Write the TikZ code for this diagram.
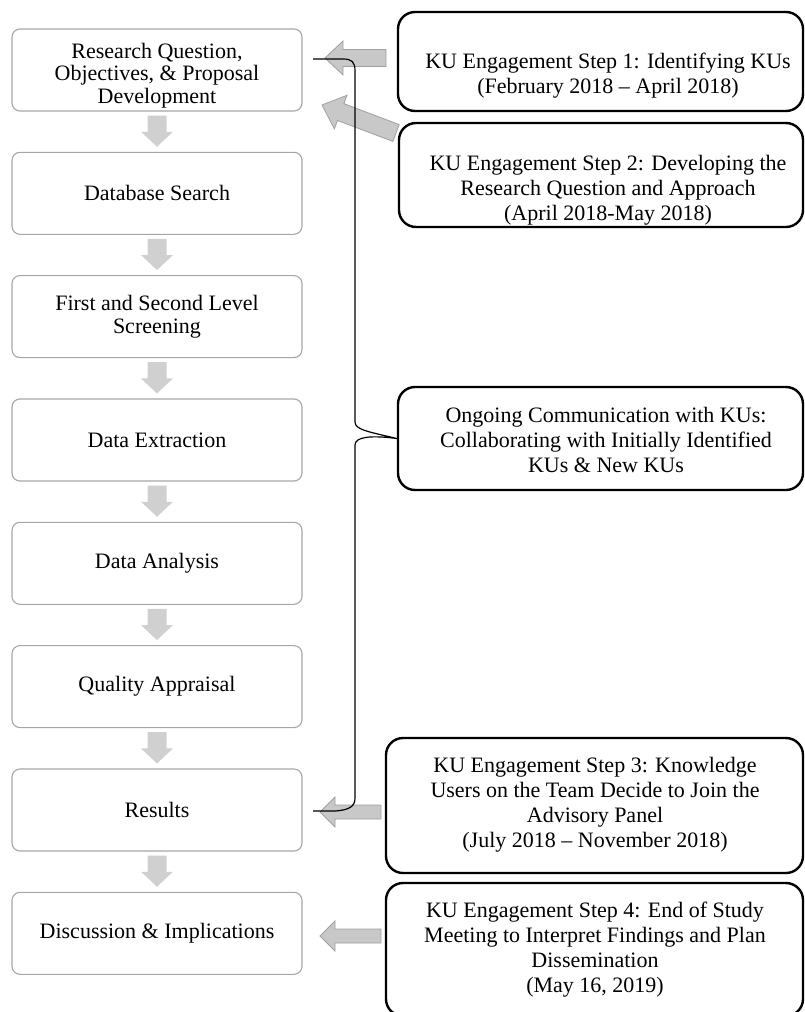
\documentclass[tikz,border=0pt]{standalone}
\usepackage{fontspec}
\setmainfont{Liberation Serif}
\usetikzlibrary{calc}
\definecolor{lgray}{HTML}{A6A6A6}
\definecolor{afill}{HTML}{C8C8C8}
\definecolor{aline}{HTML}{A0A0A0}
\definecolor{dfill}{HTML}{D0D0D0}
% block arrow: #1 tail, #2 tip, #3 shaft half width, #4 head half width, #5 head length, #6 style
\newcommand\blockarrow[6]{%
  \coordinate (ba-c) at ($(#2)!#5!(#1)$);
  \draw[#6] ($(#1)!#3!90:(#2)$) -- ($(ba-c)!#3!-90:(#1)$) -- ($(ba-c)!#4!-90:(#1)$)
    -- (#2) -- ($(ba-c)!#4!90:(#1)$) -- ($(ba-c)!#3!90:(#1)$) -- ($(#1)!#3!-90:(#2)$) -- cycle;}
\begin{document}
\begin{tikzpicture}[x=1pt,y=-1pt,
  lbox/.style={draw=lgray, line width=1.1pt, rounded corners=8pt, minimum width=290pt,
    minimum height=82pt, align=center, font=\fontsize{22}{23}\selectfont, inner sep=2pt},
  ltext/.style={align=center, font=\fontsize{22}{22.5}\selectfont, inner sep=0pt},
  rbox/.style={draw=black, line width=2.4pt, rounded corners=17pt, inner sep=0pt},
  rtext/.style={align=center, font=\fontsize{22}{25}\selectfont, inner sep=0pt},
  downarr/.style={fill=dfill, draw=none},
  sidearr/.style={fill=afill, draw=aline, line width=0.8pt},
  bracepath/.style={draw=black, line width=1.2pt}]
\useasboundingbox (0,0) rectangle (805,1012);
\clip (0,0) rectangle (805,1012);

% left process boxes
\node[lbox] (b0) at (157,70) {};
\begin{scope}
  \clip (13,30) rectangle (301,108.5);
  \node[ltext] (b0t) at (157,75.5) {Research Question,\\Objectives, \& Proposal\\Development};
\end{scope}
\node[lbox] (b1) at (157,193.3) {Database Search};
\node[lbox] (b2) at (157,316.6) {First and Second Level\\Screening};
\node[lbox] (b3) at (157,440) {Data Extraction};
\node[lbox] (b4) at (157,563.3) {Data Analysis};
\node[lbox] (b5) at (157,686.6) {Quality Appraisal};
\node[lbox] (b6) at (157,810) {Results};
\node[lbox] (b7) at (157,933.3) {Discussion \& Implications};

% down arrows
\foreach \a/\b in {b0/b1,b1/b2,b2/b3,b3/b4,b4/b5,b5/b6,b6/b7}{
  \coordinate (dt) at ($(\a.south)+(0,4)$);
  \coordinate (dh) at ($(\b.north)+(0,-5)$);
  \blockarrow{dt}{dh}{9.5pt}{16pt}{15pt}{downarr}
}

% right boxes
\node[rbox, minimum width=405pt, minimum height=99pt] (s1) at (600.5,61.5) {};
\node[rbox, minimum width=404pt, minimum height=104pt] (s2) at (601,175) {};
\node[rbox, minimum width=405pt, minimum height=103pt] (og) at (600.5,438.5) {};
\node[rbox, minimum width=417pt, minimum height=135pt] (s3) at (594.5,805.5) {};
\node[rbox, minimum width=417pt, minimum height=133pt] (s4) at (594.5,949.5) {};

\node[rtext] (s1t) at (608,75.5) {KU Engagement Step 1: Identifying KUs\\(February 2018 – April 2018)};
\node[rtext] (s2t) at (608,190) {KU Engagement Step 2: Developing the\\Research Question and Approach\\(April 2018-May 2018)};
\node[rtext] (ogt) at (606,440) {Ongoing Communication with KUs:\\Collaborating with Initially Identified\\KUs \& New KUs};
\node[rtext] (s3t) at (595,805) {KU Engagement Step 3: Knowledge\\Users on the Team Decide to Join the\\Advisory Panel\\(July 2018 – November 2018)};
\node[rtext] (s4t) at (595,950) {KU Engagement Step 4: End of Study\\Meeting to Interpret Findings and Plan\\Dissemination\\(May 16, 2019)};

% side arrows
\coordinate (a1t) at (386,58);  \coordinate (a1h) at (325,58);
\coordinate (a2t) at (396,133); \coordinate (a2h) at (322,105);
\coordinate (a3t) at (381,812); \coordinate (a3h) at (320,812);
\coordinate (a4t) at (381,936); \coordinate (a4h) at (320,936);
\blockarrow{a1t}{a1h}{8.5pt}{17pt}{18pt}{sidearr}
\blockarrow{a2t}{a2h}{9pt}{18pt}{20pt}{sidearr}
\blockarrow{a3t}{a3h}{7pt}{15pt}{15pt}{sidearr}
\blockarrow{a4t}{a4h}{7pt}{15pt}{15pt}{sidearr}

% brace
\coordinate (brtop) at (313,59);
\coordinate (brtip) at (og.west);
\coordinate (brbot) at (313,811);
\draw[bracepath] (brtop) -- (343,59) .. controls (352,59) and (355,62) .. (355,71)
  -- (355,422) .. controls (355,430) and (370,432) .. (brtip)
  .. controls (370,435) and (355,437) .. (355,445)
  -- (355,798) .. controls (355,806) and (350,810) .. (335,811) -- (brbot);
\end{tikzpicture}
\end{document}
